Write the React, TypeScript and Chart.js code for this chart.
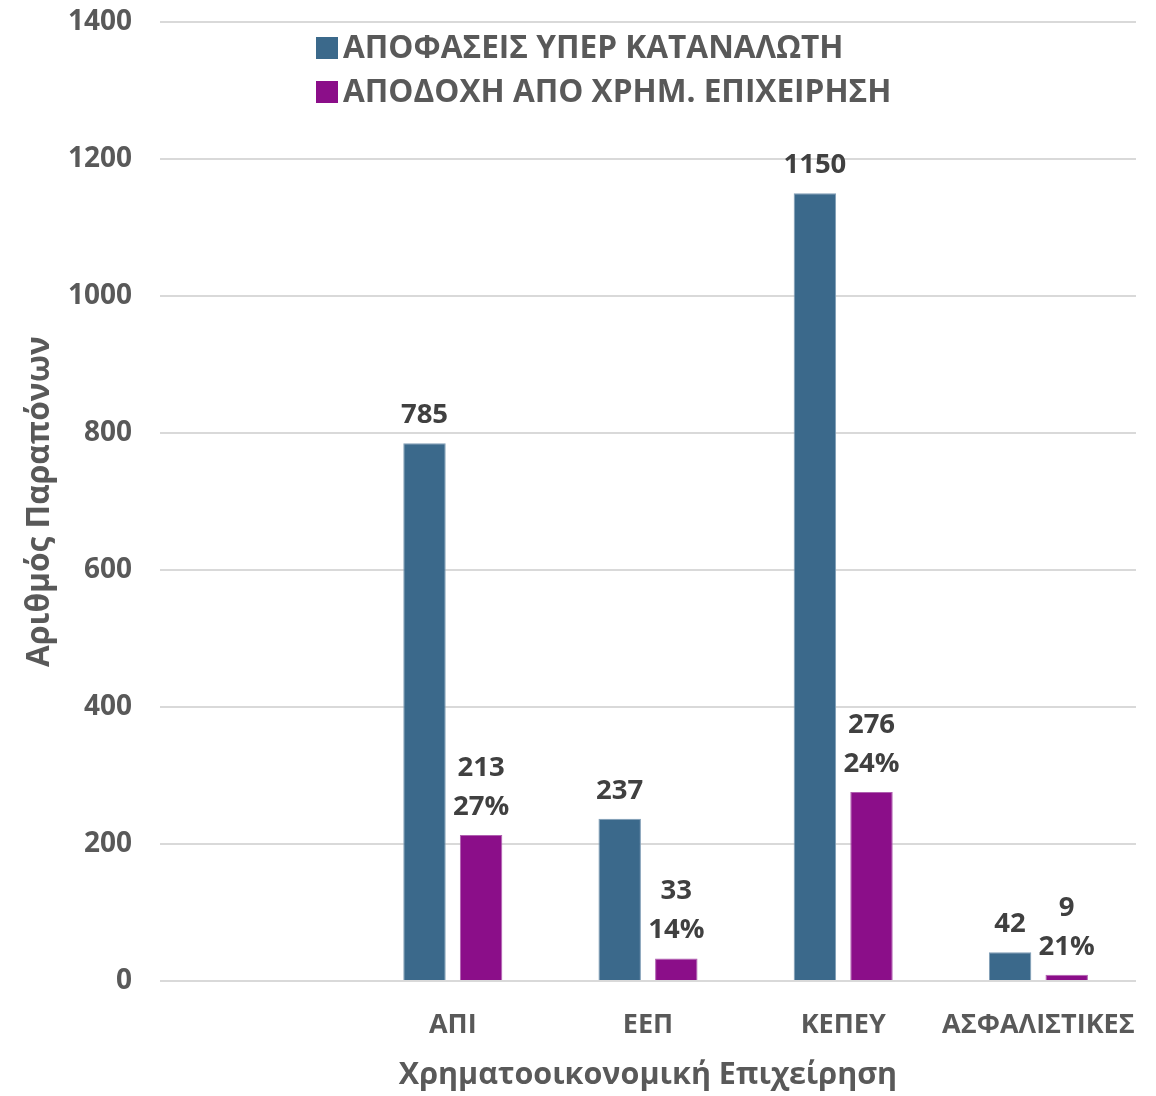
import { useEffect, useRef } from 'react';
import { Chart, registerables } from 'chart.js';

Chart.register(...registerables);

const categories = ['', 'ΑΠΙ', 'ΕΕΠ', 'ΚΕΠΕΥ', 'ΑΣΦΑΛΙΣΤΙΚΕΣ'];
const decisions = [null, 785, 237, 1150, 42];
const accepted = [null, 213, 33, 276, 9];
const acceptedPct = ['', '27%', '14%', '24%', '21%'];
const seriesNames = ['ΑΠΟΦΑΣΕΙΣ ΥΠΕΡ ΚΑΤΑΝΑΛΩΤΗ', 'ΑΠΟΔΟΧΗ ΑΠΟ ΧΡΗΜ. ΕΠΙΧΕΙΡΗΣΗ'];
const seriesColors = ['#3B698B', '#8B0E89'];
const yAxisTitle = 'Αριθμός Παραπόνων';
const xAxisTitle = 'Χρηματοοικονομική Επιχείρηση';

const FONT = '"Open Sans", "Noto Sans", sans-serif';
const AXIS_COLOR = '#595959';
const LABEL_COLOR = '#404040';

const labelPlugin = {
  id: 'barLabels',
  afterDatasetsDraw(chart: any) {
    const ctx = chart.ctx;
    ctx.save();
    ctx.font = `bold 27.5px ${FONT}`;
    ctx.fillStyle = LABEL_COLOR;
    ctx.textAlign = 'center';
    ctx.textBaseline = 'alphabetic';
    chart.data.datasets.forEach((ds: any, di: number) => {
      const meta = chart.getDatasetMeta(di);
      meta.data.forEach((el: any, i: number) => {
        const v = ds.data[i];
        if (v === null || v === undefined) return;
        const base = el.y - 20;
        if (di === 0) {
          ctx.fillText(String(v), el.x, base);
        } else {
          ctx.fillText(acceptedPct[i], el.x, base);
          ctx.fillText(String(v), el.x, base - 39);
        }
      });
    });
    ctx.restore();
  },
};

const legendPlugin = {
  id: 'customLegend',
  afterDraw(chart: any) {
    const ctx = chart.ctx;
    const { left, top } = chart.chartArea;
    ctx.save();
    ctx.font = `bold 31.6px ${FONT}`;
    ctx.textBaseline = 'middle';
    ctx.textAlign = 'left';
    seriesNames.forEach((name, i) => {
      const bx = left + 156;
      const by = top + 15 + i * 44;
      ctx.fillStyle = seriesColors[i];
      ctx.fillRect(bx, by, 22, 22);
      ctx.fillStyle = AXIS_COLOR;
      ctx.fillText(name, bx + 27, by + 12);
    });
    ctx.restore();
  },
};

export default function App() {
  const ref = useRef<HTMLCanvasElement>(null);
  useEffect(() => {
    if (!ref.current) return;
    const chart = new Chart(ref.current, {
      type: 'bar',
      data: {
        labels: categories,
        datasets: [
          {
            label: seriesNames[0],
            data: decisions,
            backgroundColor: seriesColors[0],
            borderColor: '#7f9db5',
            borderWidth: 1,
            categoryPercentage: 0.58,
            barPercentage: 0.75,
          },
          {
            label: seriesNames[1],
            data: accepted,
            backgroundColor: seriesColors[1],
            borderColor: '#b060b0',
            borderWidth: 1,
            categoryPercentage: 0.58,
            barPercentage: 0.75,
          },
        ],
      },
      options: {
        animation: false,
        responsive: true,
        maintainAspectRatio: false,
        layout: { padding: { top: 14, right: 12, left: 0, bottom: 0 } },
        plugins: {
          legend: { display: false },
          tooltip: { enabled: false },
        },
        scales: {
          x: {
            grid: { display: false },
            border: { display: false },
            ticks: {
              color: AXIS_COLOR,
              font: { family: FONT, size: 27, weight: 'bold' },
              padding: 20,
              autoSkip: false,
              maxRotation: 0,
              minRotation: 0,
            },
            title: {
              display: true,
              text: xAxisTitle,
              color: AXIS_COLOR,
              font: { family: FONT, size: 30.5, weight: 'bold', lineHeight: 1 },
              padding: { top: 0, bottom: 5 },
            },
            afterFit(scale: any) {
              scale.height = 115;
              scale.paddingLeft = 0;
              scale.paddingRight = 0;
            },
          },
          y: {
            min: 0,
            max: 1400,
            grid: { color: '#d9d9d9', lineWidth: 2, drawTicks: false },
            border: { display: false },
            ticks: {
              stepSize: 200,
              color: AXIS_COLOR,
              font: { family: FONT, size: 28, weight: 'bold' },
              padding: 28,
              callback: (v: any) => String(v),
            },
            title: {
              display: true,
              text: yAxisTitle,
              color: AXIS_COLOR,
              font: { family: FONT, size: 31.7, weight: 'bold' },
              padding: { top: 13, bottom: 0 },
            },
            afterFit(scale: any) {
              scale.width = 152;
              scale.paddingTop = 14;
              scale.paddingBottom = 0;
            },
          },
        },
      },
      plugins: [labelPlugin, legendPlugin],
    });
    return () => chart.destroy();
  }, []);
  return (
    <div style={{ position: 'absolute', width: 1140, height: 1088 }}>
      <canvas ref={ref} />
    </div>
  );
}
